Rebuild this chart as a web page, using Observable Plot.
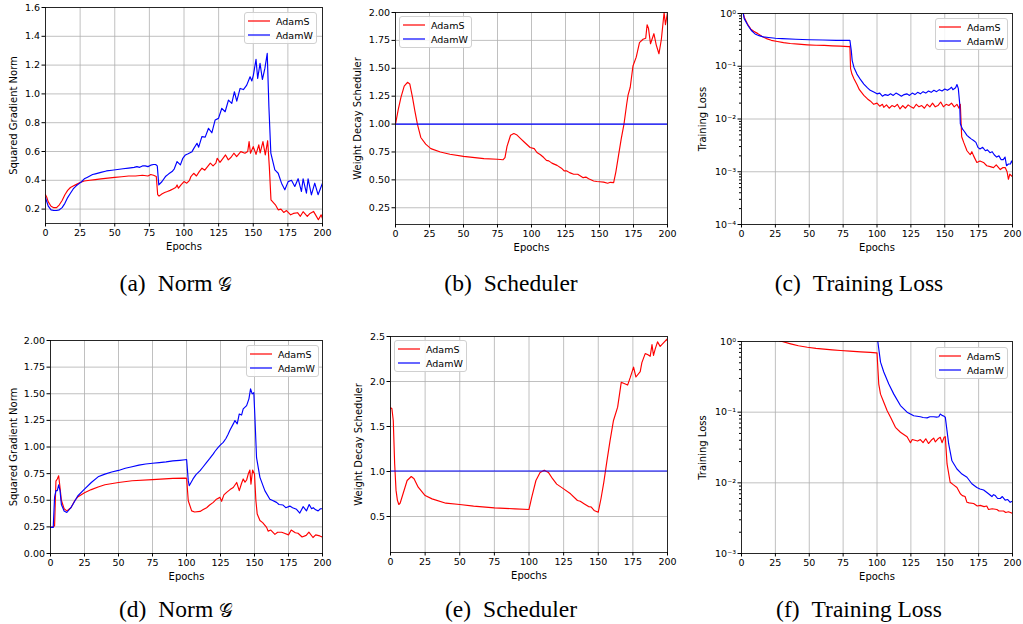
<!DOCTYPE html>
<html><head><meta charset="utf-8">
<script src="https://cdn.jsdelivr.net/npm/d3@7"></script>
<script src="https://cdn.jsdelivr.net/npm/@observablehq/plot@0.6"></script>
<style>
body{margin:0;background:#fff;}
#root{position:relative;width:1023px;height:624px;background:#fff;overflow:hidden;}
.panel{position:absolute;}
.legend{position:absolute;width:73px;height:32px;border:1px solid #d0d0d0;border-radius:3px;background:rgba(255,255,255,0.85);box-sizing:border-box;font-family:"DejaVu Sans";font-size:9.5px;}
.legend .row{position:absolute;left:3px;height:12px;display:flex;align-items:center;}
.legend .row span{margin-left:6px;color:#000;}
.cap{position:absolute;width:300px;text-align:center;font-family:"Liberation Serif","Times New Roman",serif;font-size:23.5px;line-height:26px;color:#000;}
.cap .lab{margin-right:12px;}
.cap .g{font-size:0.8em;}
</style>
</head><body><div id="root"></div>
<script>
// ---------- data ----------
const xTicks = [0, 25, 50, 75, 100, 125, 150, 175, 200];
const seriesNames = ["AdamS", "AdamW"];
const captions = [["(a)", "Norm 𝒢"], ["(b)", "Scheduler"], ["(c)", "Training Loss"], ["(d)", "Norm 𝒢"], ["(e)", "Scheduler"], ["(f)", "Training Loss"]];

const normA_yTicks = [0.2, 0.4, 0.6, 0.8, 1.0, 1.2, 1.4, 1.6];
const schedB_yTicks = [0.25, 0.5, 0.75, 1.0, 1.25, 1.5, 1.75, 2.0];
const lossC_yTicks = [1e-4, 1e-3, 1e-2, 1e-1, 1];
const normD_yTicks = [0, 0.25, 0.5, 0.75, 1.0, 1.25, 1.5, 1.75, 2.0];
const schedE_yTicks = [0.5, 1.0, 1.5, 2.0, 2.5];
const lossF_yTicks = [1e-3, 1e-2, 1e-1, 1];

const normA_AdamS = [[0,0.30],[1,0.28],[2,0.25],[4,0.22],[6,0.21],[8,0.21],[10,0.23],[12,0.26],[14,0.30],[16,0.33],[18,0.35],[20,0.36],[22,0.37],[25,0.385],[28,0.395],[32,0.40],[36,0.405],[40,0.41],[45,0.415],[50,0.42],[55,0.425],[60,0.43],[65,0.43],[70,0.435],[74,0.43],[76,0.44],[78,0.435],[80,0.426],[81,0.30],[82,0.29],[84,0.305],[86,0.315],[88,0.322],[90,0.33],[92,0.34],[94,0.35],[95,0.368],[96,0.345],[98,0.37],[100,0.391],[102,0.38],[104,0.40],[105,0.426],[107,0.449],[109,0.43],[111,0.46],[113,0.484],[115,0.47],[117,0.495],[119,0.519],[121,0.50],[123,0.519],[124,0.553],[126,0.525],[128,0.55],[130,0.576],[132,0.542],[134,0.56],[136,0.588],[138,0.565],[141,0.599],[144,0.588],[146,0.60],[147,0.669],[148,0.588],[150,0.634],[152,0.58],[154,0.646],[155,0.59],[157,0.669],[158.7,0.576],[160.4,0.675],[161.6,0.495],[162.8,0.264],[166,0.23],[168,0.195],[170,0.20],[172,0.177],[174,0.19],[177,0.16],[179,0.17],[182,0.175],[184,0.15],[186,0.182],[189,0.149],[191,0.17],[193.5,0.184],[195,0.16],[197,0.126],[199,0.16],[200,0.135]];
const normA_AdamW = [[0,0.28],[2,0.22],[4,0.195],[6,0.19],[8,0.19],[10,0.195],[12,0.21],[14,0.24],[16,0.28],[18,0.31],[20,0.34],[22,0.36],[24,0.375],[26,0.39],[28,0.41],[30,0.42],[32,0.43],[34,0.44],[36,0.445],[40,0.455],[44,0.465],[48,0.47],[52,0.475],[56,0.48],[60,0.485],[64,0.49],[66,0.495],[68,0.49],[70,0.50],[72,0.50],[74,0.495],[76,0.505],[78,0.51],[79.5,0.51],[80.7,0.50],[81.8,0.368],[84,0.39],[86.6,0.426],[89,0.445],[91.4,0.461],[93,0.48],[95,0.53],[97.4,0.507],[99,0.55],[101,0.576],[103,0.585],[105.8,0.599],[107,0.62],[109.4,0.657],[110.6,0.63],[112.9,0.703],[115.3,0.70],[117.7,0.761],[120.1,0.73],[122.5,0.819],[124.9,0.83],[127.3,0.90],[129.7,0.876],[132.1,0.957],[134.5,0.934],[136.4,1.015],[138.1,0.95],[140.5,1.038],[142.9,1.03],[145.3,1.061],[147.7,1.119],[149,1.09],[150.1,1.131],[152,1.24],[153.2,1.107],[154.9,1.212],[156.6,1.10],[158.4,1.177],[160.1,1.281],[161.3,0.911],[162.7,0.588],[165.6,0.472],[168,0.449],[170.4,0.38],[172.8,0.334],[175.2,0.391],[177.6,0.40],[180,0.357],[182.4,0.411],[184.8,0.322],[186,0.41],[188.4,0.311],[189.6,0.41],[192,0.299],[194.4,0.38],[196.8,0.30],[199.2,0.36],[200,0.38]];

const schedB_AdamS = [[0,1.0],[2,1.13],[4,1.24],[6.4,1.34],[8.8,1.374],[10.5,1.36],[12.5,1.24],[14.2,1.12],[16.1,1.0],[18.6,0.88],[22.2,0.82],[26,0.78],[33,0.75],[40,0.73],[50,0.71],[65,0.69],[75,0.685],[79,0.68],[80.5,0.70],[82,0.80],[84.6,0.90],[87,0.915],[89,0.905],[92,0.87],[95,0.835],[99,0.79],[102,0.78],[104,0.745],[106.6,0.725],[109,0.70],[111,0.675],[112.7,0.67],[115,0.65],[118.8,0.63],[122,0.605],[124,0.58],[126,0.58],[128,0.565],[131,0.55],[134,0.55],[136,0.535],[138,0.52],[140,0.525],[142,0.51],[145.7,0.49],[148,0.485],[150,0.483],[153,0.48],[156,0.47],[158,0.478],[160.4,0.475],[162,0.57],[164,0.72],[166,0.87],[168,1.0],[170,1.18],[171,1.26],[172.6,1.33],[174.6,1.52],[177,1.60],[179.4,1.73],[182,1.76],[184,1.77],[185,1.89],[186,1.86],[187.5,1.72],[190,1.81],[191.7,1.71],[193.7,1.63],[195.5,1.76],[197.5,2.0],[198.5,1.89],[200,2.0]];
const schedB_AdamW = [[0,1.0],[200,1.0]];

const lossC_AdamS = [[1,1.1],[2,0.85],[4.4,0.63],[6.9,0.505],[9,0.46],[11.8,0.42],[15,0.37],[19,0.33],[22,0.31],[26.5,0.295],[31,0.28],[36,0.27],[42,0.262],[48.6,0.255],[55,0.25],[61,0.248],[67,0.244],[73,0.24],[79,0.236],[80,0.24],[80.5,0.09],[81.5,0.071],[83,0.058],[85.2,0.045],[87,0.036],[90.3,0.028],[93,0.024],[95,0.022],[97.6,0.019],[100,0.020],[102,0.0175],[104,0.019],[105,0.0166],[107,0.0185],[109,0.016],[111,0.018],[113,0.017],[115,0.019],[117,0.0155],[119,0.018],[121,0.016],[123,0.0185],[125,0.017],[127,0.016],[129,0.019],[131,0.017],[133,0.018],[135,0.016],[137,0.019],[139,0.017],[141,0.020],[143,0.017],[145,0.018],[147,0.021],[149,0.017],[151,0.019],[153,0.018],[155,0.020],[157,0.017],[159,0.019],[160.5,0.016],[161.5,0.019],[162.5,0.0046],[164,0.0036],[166.4,0.0025],[168.8,0.0021],[170,0.0024],[171.3,0.002],[173.7,0.0015],[176,0.0016],[178.6,0.0015],[181,0.0013],[183.6,0.00125],[186,0.0012],[188,0.00135],[191,0.0011],[193,0.0012],[194.6,0.0012],[196,0.001],[197,0.00072],[198,0.0009],[199,0.00085],[200,0.0008]];
const lossC_AdamW = [[1,1.1],[2,0.8],[5,0.58],[7.5,0.47],[10,0.41],[13,0.38],[16,0.36],[20,0.35],[25,0.34],[30,0.335],[40,0.325],[50,0.318],[60,0.315],[70,0.31],[75,0.31],[79,0.31],[80,0.31],[81,0.2],[81.7,0.128],[83,0.095],[85.2,0.071],[88,0.055],[90.3,0.046],[93,0.039],[95,0.035],[98,0.032],[100,0.030],[102,0.031],[104,0.027],[106,0.029],[108,0.028],[110,0.030],[112,0.028],[114,0.031],[116,0.029],[118,0.027],[120,0.029],[122,0.030],[124,0.028],[126,0.031],[128,0.029],[130,0.032],[132,0.030],[134,0.033],[136,0.031],[138,0.034],[140,0.032],[142,0.035],[144,0.033],[146,0.036],[148,0.034],[150,0.037],[152,0.035],[154,0.038],[155,0.040],[156,0.036],[158,0.039],[159,0.045],[160,0.038],[161,0.02],[161.5,0.0081],[163,0.0065],[164.5,0.0058],[166.4,0.0049],[168,0.0045],[169.5,0.0042],[171.3,0.0039],[173,0.0036],[174.5,0.0029],[176,0.0027],[178,0.0029],[180,0.0025],[181.5,0.0026],[183.4,0.0023],[185,0.0024],[186.5,0.0021],[188.3,0.0019],[190,0.002],[191.5,0.0017],[193.2,0.0017],[194.5,0.0019],[195.6,0.0013],[197,0.0014],[198.5,0.0014],[199.3,0.0016],[200,0.0015]];

const normD_AdamS = [[0,0.245],[2,0.25],[3,0.26],[4,0.68],[5,0.70],[6,0.73],[7,0.62],[8,0.50],[10,0.42],[12,0.40],[15,0.43],[18,0.50],[20,0.53],[25,0.57],[30,0.60],[35,0.625],[40,0.645],[50,0.667],[60,0.683],[75,0.693],[90,0.705],[99,0.708],[100.1,0.705],[101.3,0.495],[103.8,0.40],[106,0.39],[110,0.395],[112,0.41],[114.8,0.43],[117,0.455],[119.7,0.48],[122,0.51],[124.6,0.527],[125.8,0.49],[127.5,0.55],[129.5,0.574],[132,0.60],[134.4,0.62],[136.9,0.667],[138.8,0.59],[140.5,0.66],[141.7,0.70],[143,0.67],[144.2,0.69],[145.4,0.746],[146.6,0.784],[147.4,0.65],[148.6,0.784],[150,0.746],[151,0.50],[152,0.37],[154,0.31],[156,0.29],[158.9,0.245],[160,0.21],[162,0.22],[165,0.18],[167,0.20],[170,0.20],[172,0.19],[175,0.175],[177,0.22],[180,0.195],[182,0.19],[185,0.155],[188,0.17],[190,0.20],[193,0.15],[195,0.175],[198,0.165],[200,0.155]];
const normD_AdamW = [[0,0.245],[2,0.245],[3,0.53],[4,0.59],[5,0.59],[6,0.645],[7,0.59],[8,0.46],[10,0.40],[12,0.385],[15,0.43],[18,0.495],[20,0.54],[25,0.605],[30,0.667],[35,0.72],[40,0.745],[45,0.765],[50,0.78],[55,0.80],[60,0.815],[65,0.83],[70,0.84],[75,0.847],[80,0.853],[85,0.86],[90,0.87],[95,0.875],[99,0.88],[100.1,0.881],[101.3,0.684],[102,0.636],[104.8,0.70],[107,0.74],[110,0.778],[112,0.81],[114.8,0.856],[117,0.89],[119.7,0.935],[121,0.96],[123.3,0.997],[125,1.02],[127,1.044],[129,1.08],[130.6,1.12],[132,1.16],[134.4,1.217],[135.6,1.248],[137.3,1.217],[138.8,1.31],[140.5,1.30],[141.7,1.358],[144.2,1.389],[145.9,1.452],[147.1,1.546],[148.3,1.499],[149.5,1.51],[150.2,1.31],[151.5,0.90],[154,0.715],[157.6,0.59],[161.3,0.51],[163,0.50],[166.2,0.48],[168,0.46],[171,0.455],[173,0.43],[176,0.445],[178,0.43],[180.9,0.415],[183.3,0.38],[185.8,0.44],[188.2,0.40],[190.2,0.46],[192,0.42],[193.2,0.43],[195,0.41],[196.8,0.40],[198.5,0.42],[200,0.42]];

const schedE_AdamS = [[0,1.707],[1,1.70],[2,1.567],[3,1.085],[4,0.79],[5,0.68],[6,0.633],[7,0.65],[9,0.75],[12,0.90],[15,0.944],[17,0.92],[20,0.826],[25,0.733],[30,0.696],[40,0.648],[50,0.633],[60,0.615],[75,0.596],[90,0.585],[100,0.578],[102,0.715],[105,0.90],[108,0.99],[111,1.015],[114,0.99],[117,0.92],[120,0.86],[125,0.807],[130,0.752],[135,0.678],[137,0.67],[140,0.64],[143,0.61],[145,0.605],[147,0.567],[150,0.548],[152,0.70],[154,0.88],[156.3,1.12],[158.5,1.34],[161,1.567],[164,1.715],[166.6,1.99],[168.3,1.98],[171.2,1.96],[173,2.04],[175.5,2.16],[177.2,2.05],[180.3,2.11],[181.5,2.21],[183.9,2.31],[185.6,2.30],[187.5,2.28],[188.8,2.41],[189.9,2.29],[191.1,2.36],[192.8,2.44],[194.7,2.39],[197.1,2.43],[199.6,2.47],[200,2.455]];
const schedE_AdamW = [[0,1.0],[200,1.0]];

const lossF_AdamS = [[28,1.02],[30,1.0],[36.3,0.927],[42,0.87],[48.6,0.83],[55,0.8],[60.9,0.78],[67,0.76],[73,0.745],[80,0.73],[88,0.714],[95,0.70],[99.5,0.69],[100,0.69],[101.3,0.25],[102.6,0.18],[105,0.138],[107.5,0.105],[110,0.085],[113.6,0.061],[117.3,0.052],[120,0.048],[122.2,0.045],[124.7,0.037],[126,0.041],[128,0.040],[130,0.039],[132,0.041],[134,0.037],[136,0.042],[138,0.036],[140,0.04],[141.8,0.043],[143,0.038],[145,0.042],[146.7,0.044],[148,0.037],[149.5,0.044],[150.4,0.045],[151.7,0.0185],[154,0.0102],[156,0.0095],[159,0.0086],[161.5,0.007],[163,0.0066],[165,0.0064],[166.4,0.0053],[168,0.0052],[171.3,0.0051],[174,0.0047],[176.2,0.0048],[179,0.0046],[181,0.0047],[182.3,0.0042],[185,0.0043],[188.5,0.0042],[190,0.0040],[193.4,0.0040],[195,0.0038],[197,0.0039],[200,0.0037]];
const lossF_AdamW = [[100,1.2],[100.6,1.0],[102.6,0.51],[105,0.37],[108.7,0.25],[112.4,0.18],[117.3,0.124],[122.2,0.10],[127.1,0.089],[132,0.086],[134,0.084],[137,0.083],[139,0.086],[141.8,0.086],[144,0.085],[145.6,0.086],[146.7,0.094],[148,0.09],[149.2,0.088],[150.4,0.085],[152.9,0.0355],[155.3,0.0205],[159,0.0157],[162.7,0.0133],[166.4,0.012],[170,0.0097],[173.7,0.0086],[176,0.0082],[178.7,0.0079],[182.3,0.007],[184.8,0.0064],[186,0.0068],[187.3,0.0066],[189,0.006],[191,0.006],[192.5,0.0064],[194.6,0.0057],[196.5,0.0058],[198.3,0.0053],[200,0.0055]];

// ---------- drawing ----------
const COLORS = {AdamS: "#ff0000", AdamW: "#0000ff"};
const root = document.getElementById("root");
const sup = {"-": "⁻", "0": "⁰", "1": "¹", "2": "²", "3": "³", "4": "⁴", "5": "⁵", "6": "⁶", "7": "⁷", "8": "⁸", "9": "⁹"};
const powFmt = v => "10" + String(Math.round(Math.log10(v))).split("").map(c => sup[c]).join("");

function minorTicks(lo, hi) {
  const out = [];
  for (let k = Math.round(Math.log10(lo)); k < Math.round(Math.log10(hi)); k++)
    for (let m = 2; m <= 9; m++) out.push(m * Math.pow(10, k));
  return out;
}

function panel(cfg) {
  const gridStyle = {stroke: "#b0b0b0", strokeOpacity: 1, strokeWidth: 0.8};
  const marks = [
    Plot.gridX(xTicks, gridStyle),
    Plot.gridY(cfg.yTicks, gridStyle)
  ];
  if (cfg.log) marks.push(Plot.axisY({ticks: minorTicks(cfg.domain[0], cfg.domain[1]), tickFormat: () => "", tickSize: 2, label: null}));
  cfg.series.forEach((s, i) => marks.push(Plot.line(s, {x: d => d[0], y: d => d[1], stroke: COLORS[seriesNames[i]], strokeWidth: 1.15, dy: i === 1 ? (cfg.wdy || 0) : 0, clip: true})));
  marks.push(
    Plot.frame({stroke: "#000", strokeWidth: 0.8}),
    Plot.axisX({ticks: xTicks, tickSize: 3.5, tickPadding: 2, label: "Epochs", labelAnchor: "center", labelArrow: "none", labelOffset: 26}),
    Plot.axisY({ticks: cfg.yTicks, tickFormat: cfg.fmt, tickSize: 3.5, tickPadding: 2, label: cfg.label, labelAnchor: "center", labelArrow: "none", labelOffset: cfg.ylo})
  );
  const svg = Plot.plot({
    width: cfg.w, height: 260,
    marginLeft: cfg.ml, marginRight: cfg.w - cfg.ml - cfg.fw, marginTop: cfg.mt, marginBottom: 260 - cfg.mt - cfg.fh,
    style: {fontFamily: "DejaVu Sans", fontSize: "9.5px", color: "#000", background: "transparent"},
    x: {domain: [0, 200]},
    y: {type: cfg.log ? "log" : "linear", domain: cfg.domain},
    marks
  });
  svg.querySelectorAll('[aria-label="x-axis label"], [aria-label="y-axis label"]').forEach(g => g.setAttribute("font-size", "10"));
  const div = document.createElement("div");
  div.className = "panel";
  div.style.left = cfg.left + "px"; div.style.top = cfg.top + "px";
  div.appendChild(svg);
  root.appendChild(div);

  const lg = document.createElement("div");
  lg.className = "legend";
  lg.style.left = cfg.lg[0] + "px"; lg.style.top = cfg.lg[1] + "px";
  seriesNames.forEach((n, i) => {
    const row = document.createElement("div");
    row.className = "row";
    row.style.top = (2 + i * 14) + "px";
    row.innerHTML = `<svg width="22" height="12"><line x1="0" x2="22" y1="6" y2="6" stroke="${COLORS[n]}" stroke-width="1.2"/></svg><span>${n}</span>`;
    lg.appendChild(row);
  });
  root.appendChild(lg);

  const cap = document.createElement("div");
  cap.className = "cap";
  cap.style.left = (cfg.cap[0] - 150) + "px"; cap.style.top = (cfg.cap[1] - 13) + "px";
  cap.innerHTML = `<span class="lab">${cfg.caption[0]}</span>${cfg.caption[1].replace("𝒢", '<span class="g">𝒢</span>')}`;
  root.appendChild(cap);
}

const f1 = d3.format(".1f"), f2 = d3.format(".2f");
panel({left: 0, top: 0, w: 340, ml: 45, fw: 277, mt: 7, fh: 216, domain: [0.1, 1.6], yTicks: normA_yTicks, fmt: f1, label: "Squared Gradient Norm", ylo: 36, series: [normA_AdamS, normA_AdamW], lg: [244, 12], cap: [176, 283], caption: captions[0]});
panel({left: 340, top: 0, w: 340, ml: 55, fw: 272, mt: 12, fh: 212, domain: [0.1, 2.0], yTicks: schedB_yTicks, fmt: f2, label: "Weight Decay Scheduler", ylo: 42, series: [schedB_AdamS, schedB_AdamW], lg: [399, 16], cap: [511, 283], caption: captions[1]});
panel({left: 680, top: 0, w: 343, ml: 61, fw: 271, mt: 13, fh: 211, domain: [1e-4, 1], log: true, yTicks: lossC_yTicks, fmt: powFmt, label: "Training Loss", ylo: 43, series: [lossC_AdamS, lossC_AdamW], lg: [935, 18], cap: [859, 283], caption: captions[2]});
panel({left: 0, top: 330, w: 340, ml: 50, fw: 272, mt: 10, fh: 213, domain: [0, 2.0], yTicks: normD_yTicks, fmt: f2, label: "Squared Gradient Norm", ylo: 41, series: [normD_AdamS, normD_AdamW], lg: [246, 345], cap: [176, 609], caption: captions[3]});
panel({left: 340, top: 330, w: 340, ml: 50, fw: 277, mt: 6, fh: 216, domain: [0.1, 2.5], yTicks: schedE_yTicks, fmt: f1, label: "Weight Decay Scheduler", ylo: 36, wdy: -0.5, series: [schedE_AdamS, schedE_AdamW], lg: [394, 340], cap: [511, 609], caption: captions[4]});
panel({left: 680, top: 330, w: 343, ml: 61, fw: 271, mt: 11, fh: 212, domain: [1e-3, 1], log: true, yTicks: lossF_yTicks, fmt: powFmt, label: "Training Loss", ylo: 43, series: [lossF_AdamS, lossF_AdamW], lg: [935, 347], cap: [859, 609], caption: captions[5]});
</script></body></html>
